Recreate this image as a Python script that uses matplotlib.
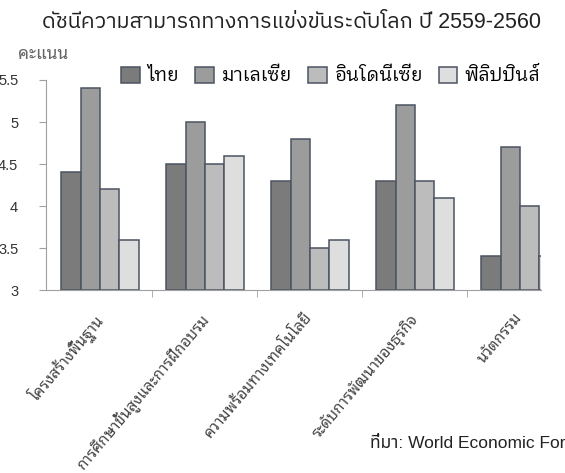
import numpy as np
import matplotlib
matplotlib.use("Agg")
import matplotlib.pyplot as plt
from matplotlib.transforms import ScaledTranslation

# data
title = "ดัชนีความสามารถทางการแข่งขันระดับโลก ปี 2559-2560"
categories = ["โครงสร้างพื้นฐาน", "การศึกษาขั้นสูงและการฝึกอบรม",
              "ความพร้อมทางเทคโนโลยี", "ระดับการพัฒนาของธุรกิจ", "นวัตกรรม"]
countries = ["ไทย", "มาเลเซีย", "อินโดนีเซีย", "ฟิลิปปินส์"]
thailand = [4.4, 4.5, 4.3, 4.3, 3.4]
malaysia = [5.4, 5.0, 4.8, 5.2, 4.7]
indonesia = [4.2, 4.5, 3.5, 4.3, 4.0]
philippines = [3.6, 4.6, 3.6, 4.1, 3.4]
yticks = [3, 3.5, 4, 4.5, 5, 5.5]
ylabel = "คะแนน"
source = "ที่มา: World Economic Forum"

title_font = ["Liberation Sans", "IBM Plex Sans Thai"]
latin_thai = ["Liberation Sans", "Noto Sans Thai"]
looped = ["Noto Sans Thai Looped", "Liberation Sans"]
legend_font = ["IBM Plex Sans Thai Looped", "Liberation Sans"]
colors = ["#7b7b7b", "#9c9c9c", "#bcbcbc", "#dedede"]
edge = "#4c5462"

W, H = 565, 473
fig = plt.figure(figsize=(W / 100, H / 100), dpi=100)
# the original picture is cropped: the plot runs off the right edge
ax = fig.add_axes([46 / W, 1 - 290 / H, 495 / W, 210 / H])

x = np.arange(len(categories))
bw = 0.184
series = [thailand, malaysia, indonesia, philippines]
bars = []
for k, vals in enumerate(series):
    b = ax.bar(x + (k - 1.5) * bw, np.array(vals) - 3, bw, bottom=3,
               color=colors[k], edgecolor=edge, linewidth=1.1,
               label=countries[k])
    bars.append(b)

ax.set_xlim(-0.514, 4.2)
ax.set_ylim(3, 5.5)
ax.set_yticks(yticks)
ax.set_yticklabels([f"{v:g}" for v in yticks], family=latin_thai,
                   fontsize=10.5, color="#333333")
ax.tick_params(axis="y", length=5, color="#a0a0a0", pad=15)

ax.set_xticks(x)
ax.set_xticklabels(categories, rotation=50, ha="right", va="top",
                   rotation_mode="anchor", family=looped, fontsize=11,
                   color="#444444")
ax.tick_params(axis="x", which="major", length=0, pad=15)
ax.set_xticks(x[1:] - 0.5, minor=True)
ax.tick_params(axis="x", which="minor", length=5, color="#a0a0a0")
shift = ScaledTranslation(-6 / 100, 0, fig.dpi_scale_trans)
for lab in ax.get_xticklabels():
    lab.set_transform(lab.get_transform() + shift)

for s in ["top", "right"]:
    ax.spines[s].set_visible(False)
for s in ["left", "bottom"]:
    ax.spines[s].set_color("#a0a0a0")

fig.text(291 / W, 1 - 22 / H, title, ha="center", va="center",
         fontsize=15.5, family=title_font, color="#222222")
fig.text(43 / W, 1 - 54 / H, ylabel, ha="center", va="center",
         fontsize=12.5, family=looped, color="#666666")
fig.text(370 / W, 1 - 443 / H, source, ha="left", va="center",
         fontsize=12.5, family=latin_thai, color="#222222")

fig.legend(handles=bars, labels=countries, loc="center",
           bbox_to_anchor=(331 / W, 1 - 76 / H), ncol=4, frameon=False,
           prop={"family": legend_font, "size": 13.5}, handlelength=1.0,
           handleheight=1.0, handletextpad=0.4, columnspacing=0.85,
           borderaxespad=0, borderpad=0)

fig.savefig("out.png", dpi=100)
